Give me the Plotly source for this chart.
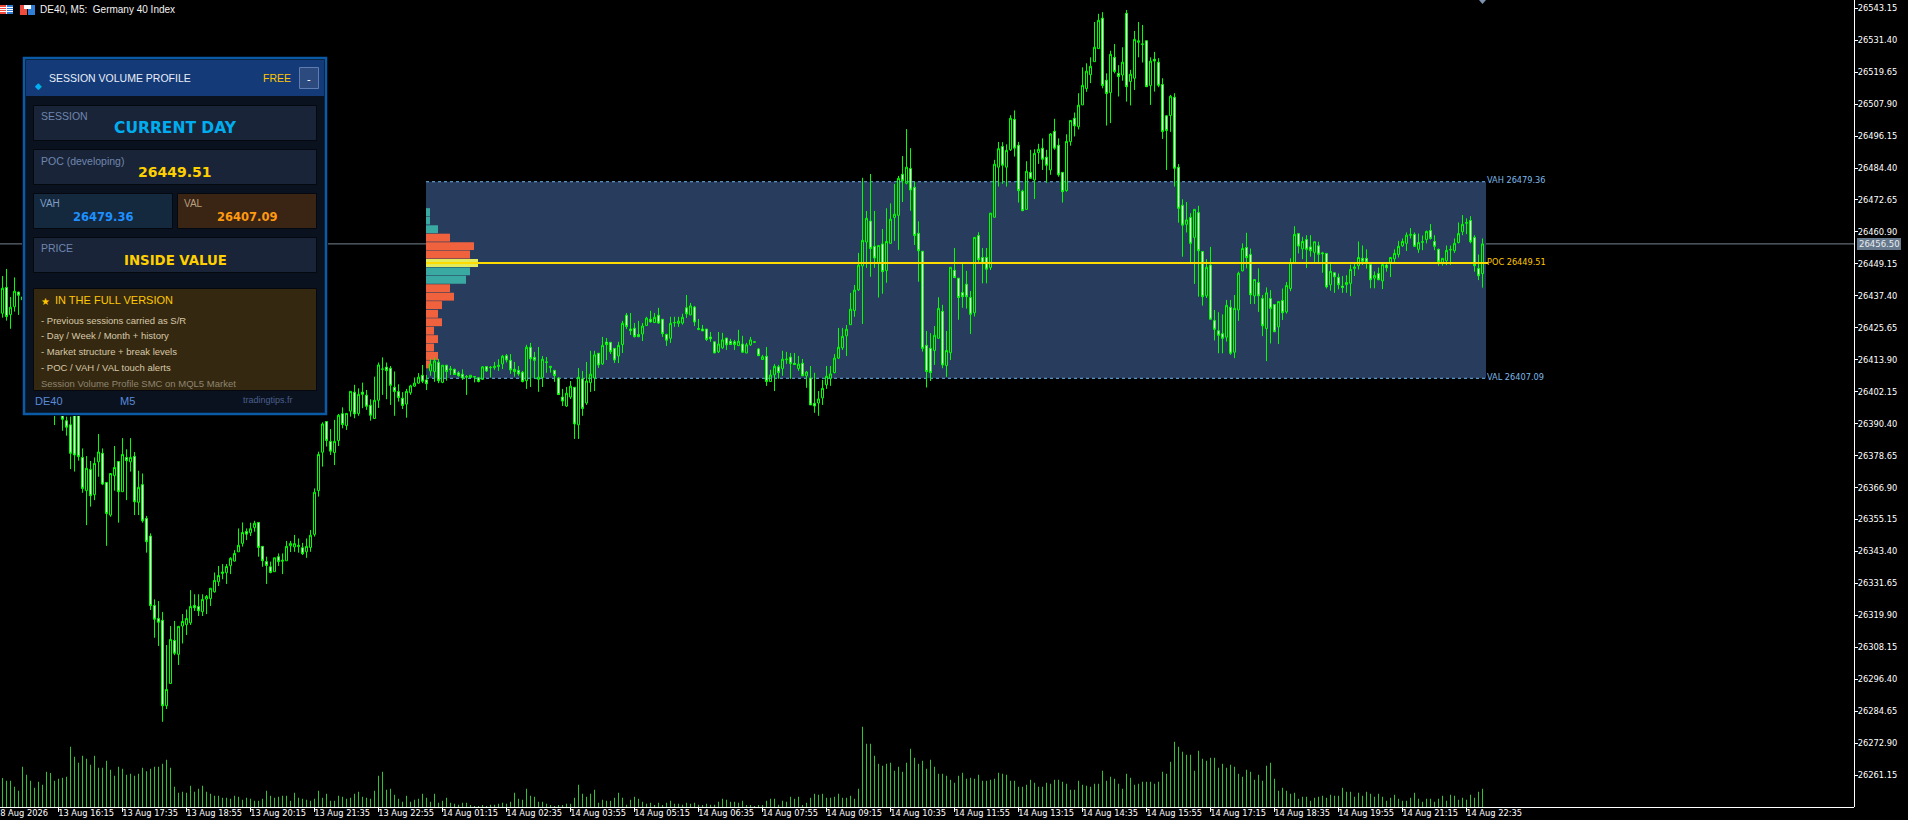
import plotly.graph_objects as go

WIDTH, HEIGHT = 1908, 820

_ = None
opens = [
26431.0,26440.5,26430.5,26433.4,26438.8,26437.0,_,_,_,_,
_,_,_,26402.0,_,26394.2,26391.5,26390.0,26398.0,26400.0,
26378.0,26365.8,26373.6,26364.3,26376.4,26379.5,26368.8,26356.8,26371.3,26376.5,
26365.4,26378.0,26376.4,26378.4,26361.5,26368.0,26355.6,26349.1,26323.6,26318.8,
26318.1,26286.7,26294.9,26310.7,26305.6,26316.0,26316.5,26317.2,26323.6,26323.2,
26321.3,26325.9,26326.1,26328.6,26332.3,26335.3,26335.6,26338.2,26339.9,26343.3,
26346.4,26350.8,26350.3,26352.2,26354.1,26345.3,26339.7,26337.8,26336.0,26341.5,
26339.8,26340.0,26345.5,26345.1,26345.2,26344.8,26343.3,26344.9,26349.7,26365.8,
26379.9,26391.2,26383.9,26379.8,26384.2,26394.1,26389.7,26395.0,26402.0,26394.1,
26402.0,26400.9,26397.2,26392.3,26399.0,26410.4,26411.2,26410.8,26403.8,26402.2,
26399.8,26397.6,26401.8,26404.2,26405.3,26408.2,26406.5,26409.8,26409.6,26413.0,
26405.6,26411.9,26410.2,26410.4,26409.1,26408.6,26407.7,26407.4,26407.6,26407.3,
26406.7,26411.4,26411.0,26411.0,26411.4,26412.4,26415.4,26413.7,26410.4,26410.0,
26409.3,26406.2,26418.5,26414.8,26406.7,26407.4,26412.9,26411.0,26410.0,26407.2,
26400.2,26396.9,26400.2,26403.8,26390.0,26406.9,26398.0,26405.5,26407.2,26416.3,
26412.4,26420.4,26420.3,26418.1,26415.3,26419.5,26430.3,26425.2,26425.5,26423.2,
26423.4,26426.5,26428.8,26427.6,26430.3,26428.8,26423.2,26421.8,26427.5,26427.3,
26427.4,26433.0,26430.4,26433.3,26425.4,26425.2,26425.2,26422.3,26420.5,26416.8,
26418.3,26421.9,26420.7,26420.5,26419.1,26419.7,26416.4,26419.4,26420.3,26417.9,
26414.0,26415.2,26405.9,26408.4,26411.3,26410.7,26413.9,26414.9,26412.6,26410.7,
26412.6,26408.0,26407.2,26397.9,26398.0,26399.9,26404.7,26407.0,26409.2,26414.5,
26418.3,26422.7,26426.8,26432.0,26439.6,26448.4,26457.2,26464.9,26455.6,26449.4,
26456.5,26446.7,26456.7,26466.2,26467.0,26482.1,26478.8,26484.2,26477.3,26460.4,
26453.8,26419.2,26418.1,26417.3,26421.8,26431.7,26411.8,26416.5,26446.8,26443.9,
26438.6,26441.7,26436.8,26431.2,26459.6,26451.5,26451.5,26447.8,26466.3,26484.7,
26492.3,26484.7,26491.1,26502.3,26492.8,26475.9,26469.2,26482.8,26480.0,26490.1,
26491.7,26488.4,26483.7,26497.9,26492.8,26482.8,26476.1,26494.1,26502.7,26499.6,
26507.6,26513.6,26518.7,26523.5,26528.3,26539.5,26516.7,26512.1,26525.1,26519.2,
26518.6,26541.3,26516.2,26517.4,26530.6,26529.8,26531.2,26514.7,26524.4,26523.3,
26515.1,26503.6,26503.7,26510.4,26484.7,26470.7,26463.7,26466.2,26458.9,26468.0,
26453.7,26437.4,26448.7,26428.3,26424.6,26423.5,26422.2,26433.2,26416.7,26432.2,
26446.6,26455.2,26452.6,26437.4,26442.3,26436.4,26425.4,26436.4,26434.2,26426.0,
26435.7,26431.5,26440.1,26449.3,26460.3,26454.7,26458.1,26455.4,26453.4,26455.8,
26453.2,26453.0,26441.5,26445.9,26444.2,26441.0,26441.5,26442.0,26447.5,26448.5,
26451.2,26451.2,26448.9,26443.9,26445.6,26442.9,26448.7,26449.8,26451.0,26452.6,
26455.8,26456.7,26459.7,26460.0,26454.5,26457.1,26458.1,26461.4,26457.4,26454.5,
26449.7,26450.3,26454.3,26454.0,26457.0,26461.0,26464.1,26465.1,26458.9,26447.5,26445.6]

closes = [
26440.2,26429.8,26433.2,26439.1,26437.6,26436.0,_,_,_,_,
_,_,_,26398.0,_,26392.0,26389.1,26379.5,26378.9,26378.3,
26366.6,26374.0,26363.9,26375.8,26380.0,26368.2,26357.4,26372.1,26374.3,26365.4,
26379.1,26376.8,26378.0,26361.7,26367.0,26354.7,26347.0,26323.5,26318.5,26317.4,
26286.7,26292.7,26311.1,26306.0,26315.9,26317.7,26318.8,26323.2,26322.7,26321.6,
26325.8,26326.9,26329.9,26332.8,26334.6,26335.9,26337.9,26340.9,26342.7,26345.7,
26350.4,26349.8,26351.8,26353.8,26344.9,26340.0,26338.3,26335.7,26341.1,26339.7,
26340.2,26345.3,26346.4,26346.3,26345.7,26342.6,26345.3,26349.4,26365.2,26379.1,
26390.3,26384.2,26380.3,26383.9,26393.5,26390.1,26394.2,26402.3,26394.0,26401.2,
26401.2,26396.8,26393.5,26399.0,26412.0,26410.5,26409.9,26404.5,26402.2,26400.0,
26397.1,26402.3,26404.3,26405.3,26407.5,26406.0,26405.1,26412.3,26413.5,26406.2,
26411.9,26409.6,26410.5,26408.5,26408.0,26407.2,26407.6,26408.2,26407.7,26405.9,
26411.3,26409.8,26411.1,26411.5,26411.9,26415.2,26413.8,26410.2,26409.6,26408.7,
26405.9,26418.5,26414.3,26413.7,26407.5,26414.1,26413.1,26411.5,26408.1,26401.1,
26398.7,26401.6,26404.2,26390.3,26407.5,26396.0,26406.1,26408.6,26415.7,26412.0,
26419.2,26419.5,26416.9,26413.8,26419.2,26427.3,26426.1,26424.6,26422.4,26422.4,
26426.3,26429.2,26427.8,26429.5,26427.4,26423.5,26421.1,26427.3,26427.6,26428.1,
26429.5,26430.8,26433.7,26427.8,26425.1,26424.5,26421.4,26421.6,26416.4,26419.7,
26421.2,26419.4,26419.5,26419.5,26420.7,26416.7,26419.4,26421.2,26420.5,26415.4,
26415.0,26405.9,26408.3,26411.5,26409.2,26414.1,26414.1,26412.5,26412.2,26412.3,
26408.0,26409.4,26397.3,26396.9,26399.5,26403.4,26407.8,26408.7,26414.5,26418.5,
26422.5,26425.1,26432.5,26439.5,26448.7,26457.8,26465.9,26454.8,26451.3,26455.9,
26446.3,26457.4,26465.6,26467.4,26480.6,26479.7,26484.7,26476.3,26459.6,26454.0,
26418.1,26409.6,26409.2,26422.9,26432.8,26412.0,26417.3,26447.9,26444.1,26436.8,
26437.1,26437.1,26430.6,26458.9,26450.7,26449.4,26447.2,26467.8,26485.8,26491.5,
26485.4,26490.9,26502.7,26491.7,26476.1,26468.7,26483.2,26480.6,26489.8,26491.3,
26487.6,26485.4,26496.9,26491.7,26481.9,26475.7,26494.2,26501.9,26499.9,26507.5,
26514.8,26520.0,26521.8,26528.8,26538.7,26514.7,26511.8,26526.2,26519.9,26518.0,
26523.3,26514.3,26518.9,26531.7,26531.2,26530.0,26514.3,26523.7,26523.7,26514.8,
26497.8,26498.2,26510.8,26484.3,26469.6,26463.4,26465.3,26456.7,26469.2,26454.0,
26437.1,26447.9,26428.8,26425.1,26422.9,26421.8,26433.9,26416.3,26432.8,26445.7,
26454.8,26451.5,26437.8,26443.4,26437.4,26426.4,26438.5,26432.8,26424.2,26435.3,
26431.2,26441.2,26449.7,26460.0,26455.7,26457.4,26454.5,26454.0,26457.3,26452.7,
26452.9,26440.7,26446.4,26444.4,26441.5,26440.5,26442.3,26447.1,26448.0,26451.5,
26450.1,26449.8,26443.3,26444.9,26443.3,26448.9,26447.7,26451.5,26453.0,26455.6,
26457.4,26459.7,26459.9,26455.6,26457.0,26457.3,26461.1,26458.5,26455.6,26449.9,
26451.2,26454.1,26454.4,26456.7,26460.3,26463.7,26464.3,26457.3,26448.5,26444.8,26456.5]

highs = [
26444.7,26447.3,26437.0,26444.2,26438.9,26447.6,_,_,_,_,
_,_,_,26410.0,_,26398.0,26393.0,26393.0,26402.0,26405.0,
26381.3,26378.5,26376.7,26378.0,26386.6,26381.3,26368.8,26372.1,26382.2,26376.5,
26385.1,26381.0,26385.1,26380.0,26373.1,26372.1,26356.5,26350.1,26325.8,26325.2,
26321.2,26309.0,26316.0,26317.9,26315.9,26320.4,26322.1,26329.2,26327.7,26327.7,
26327.7,26327.4,26329.9,26335.7,26338.1,26338.8,26338.8,26341.3,26343.9,26351.9,
26354.1,26351.9,26354.0,26354.7,26354.1,26345.4,26341.5,26339.7,26341.1,26342.7,
26342.7,26347.3,26347.3,26349.5,26348.2,26346.6,26348.2,26351.3,26366.6,26380.1,
26390.9,26391.2,26388.4,26391.8,26394.0,26396.4,26394.2,26402.3,26404.7,26403.4,
26405.5,26402.8,26399.4,26407.7,26412.9,26414.8,26412.9,26411.6,26409.6,26404.9,
26402.0,26403.2,26404.7,26407.4,26409.0,26412.0,26408.3,26414.2,26414.7,26414.2,
26411.9,26411.9,26411.6,26410.6,26409.7,26410.4,26408.3,26408.2,26407.7,26407.5,
26411.6,26411.6,26411.6,26413.1,26414.1,26415.7,26416.0,26416.0,26413.1,26411.6,
26409.8,26419.4,26420.1,26416.8,26418.6,26415.3,26414.9,26411.6,26410.2,26407.5,
26403.2,26403.9,26406.1,26403.8,26410.9,26409.8,26413.1,26417.2,26417.2,26416.3,
26422.3,26421.9,26420.3,26418.1,26420.5,26428.2,26431.1,26431.1,26427.4,26428.2,
26427.4,26429.7,26431.9,26431.1,26433.0,26428.8,26423.5,26429.7,26429.7,26429.7,
26430.8,26437.7,26434.8,26433.7,26428.9,26426.7,26425.2,26424.1,26420.5,26424.1,
26423.8,26421.9,26421.6,26421.2,26424.9,26422.7,26420.1,26422.3,26420.7,26418.2,
26415.7,26418.6,26410.2,26412.3,26412.0,26417.2,26416.8,26416.4,26416.4,26415.3,
26414.2,26409.8,26411.6,26409.1,26402.4,26406.5,26411.6,26411.6,26416.0,26425.6,
26425.6,26426.7,26438.5,26441.4,26453.2,26480.8,26468.6,26482.2,26468.6,26455.9,
26462.0,26469.6,26471.4,26478.6,26481.5,26488.8,26498.7,26491.7,26479.4,26464.8,
26453.8,26424.5,26423.7,26426.3,26436.9,26434.1,26424.5,26447.9,26455.0,26443.9,
26449.6,26446.6,26439.2,26458.9,26460.8,26455.0,26455.0,26467.8,26487.4,26494.0,
26493.9,26493.1,26503.8,26505.6,26494.0,26476.4,26486.9,26491.1,26491.3,26493.3,
26495.3,26491.1,26497.2,26502.5,26495.3,26482.8,26496.8,26501.9,26504.8,26511.9,
26521.4,26522.9,26525.1,26538.1,26541.1,26541.7,26519.2,26527.5,26530.0,26522.2,
26528.8,26542.5,26520.5,26534.8,26538.1,26537.0,26531.2,26525.1,26527.1,26524.8,
26517.4,26503.9,26511.3,26511.9,26485.9,26472.9,26471.9,26467.8,26469.2,26470.5,
26453.7,26450.9,26455.4,26432.2,26431.4,26430.6,26435.9,26435.9,26437.7,26446.3,
26456.7,26460.6,26454.8,26443.4,26447.5,26437.7,26440.5,26439.5,26434.2,26435.3,
26440.1,26442.5,26451.2,26463.0,26460.3,26459.1,26459.7,26459.7,26457.3,26457.3,
26453.6,26453.0,26449.9,26445.9,26445.6,26444.7,26445.0,26448.9,26449.6,26457.4,
26455.9,26454.5,26448.9,26446.4,26447.8,26449.8,26449.8,26451.5,26454.5,26457.6,
26458.5,26460.7,26462.3,26460.7,26460.3,26459.6,26461.4,26463.8,26459.7,26454.8,
26451.2,26455.9,26455.9,26458.5,26464.4,26467.1,26465.9,26466.7,26459.7,26452.6,26458.5]

lows = [
26429.4,26428.3,26425.3,26431.6,26430.4,26427.5,_,_,_,_,
_,_,_,26389.9,_,26387.8,26386.0,26373.7,26372.8,26376.8,
26365.0,26353.1,26359.9,26362.3,26370.9,26367.8,26345.5,26356.2,26365.8,26354.0,
26365.4,26362.3,26372.8,26356.8,26356.8,26354.0,26343.0,26321.9,26311.7,26308.7,
26280.8,26285.5,26294.9,26305.3,26301.7,26309.6,26312.7,26316.4,26321.6,26319.7,
26319.7,26320.4,26323.4,26328.3,26330.7,26333.2,26331.5,26335.1,26339.7,26343.3,
26345.2,26347.6,26349.1,26350.7,26341.5,26337.8,26331.5,26335.4,26336.0,26338.1,
26335.1,26340.0,26343.2,26343.3,26343.0,26342.1,26341.1,26343.3,26348.9,26363.6,
26374.6,26382.0,26378.9,26375.2,26382.2,26388.7,26388.1,26393.0,26392.4,26393.3,
26396.1,26395.5,26391.5,26392.3,26396.2,26401.0,26399.4,26397.3,26393.3,26398.5,
26395.8,26392.6,26401.0,26404.0,26405.1,26405.3,26402.8,26408.0,26405.8,26405.3,
26405.3,26406.2,26408.3,26408.3,26407.7,26406.5,26401.0,26407.4,26405.6,26405.6,
26406.5,26409.4,26407.4,26410.2,26409.8,26410.5,26412.9,26408.7,26407.7,26408.0,
26405.6,26403.2,26403.9,26407.1,26402.1,26403.9,26409.1,26409.2,26405.8,26401.1,
26396.9,26396.6,26399.5,26384.8,26384.8,26393.3,26397.3,26402.1,26402.4,26410.9,
26412.0,26413.8,26416.0,26412.7,26412.7,26416.4,26425.2,26423.0,26422.1,26422.2,
26420.8,26426.3,26427.6,26427.4,26427.1,26422.3,26419.0,26420.1,26426.0,26426.0,
26426.8,26429.3,26430.4,26426.3,26424.8,26424.5,26420.8,26420.5,26416.4,26416.4,
26417.9,26417.5,26419.4,26417.5,26419.0,26416.4,26416.4,26419.0,26420.1,26415.3,
26413.8,26404.3,26405.8,26402.4,26406.9,26408.0,26412.4,26406.9,26412.1,26409.8,
26408.0,26403.6,26397.3,26394.4,26393.3,26397.3,26403.2,26404.3,26408.9,26414.2,
26417.5,26415.3,26426.8,26429.7,26439.2,26427.1,26447.7,26444.4,26447.7,26436.8,
26438.2,26442.2,26456.7,26457.6,26454.3,26471.9,26478.4,26468.7,26456.1,26442.6,
26416.9,26403.7,26406.1,26412.0,26421.8,26410.8,26407.6,26413.8,26444.1,26428.6,
26433.0,26432.7,26423.4,26429.8,26449.4,26442.0,26442.0,26446.9,26466.3,26477.6,
26478.6,26477.6,26490.7,26488.6,26471.7,26468.7,26469.2,26480.6,26473.0,26485.9,
26483.7,26479.0,26481.9,26491.1,26481.2,26471.7,26475.7,26492.6,26496.0,26498.6,
26507.6,26512.4,26515.6,26523.5,26528.3,26513.7,26500.0,26500.9,26519.2,26510.7,
26516.5,26508.8,26507.4,26513.1,26525.1,26523.2,26514.3,26507.6,26512.5,26514.1,
26495.1,26483.7,26497.7,26477.6,26464.3,26451.8,26460.7,26449.4,26441.8,26437.1,
26433.8,26436.6,26428.8,26421.0,26416.3,26416.3,26420.6,26415.7,26414.5,26428.2,
26446.4,26447.5,26434.4,26434.4,26431.5,26422.6,26413.4,26419.9,26424.2,26419.7,
26428.5,26430.9,26439.1,26449.3,26453.0,26450.9,26447.6,26451.8,26449.9,26449.3,
26445.9,26440.1,26439.3,26438.5,26439.8,26438.5,26438.5,26437.3,26444.7,26447.1,
26448.7,26447.4,26440.2,26440.2,26443.2,26439.9,26446.3,26444.3,26449.3,26451.5,
26455.4,26453.9,26458.5,26455.4,26453.2,26454.2,26456.7,26458.1,26454.2,26448.5,
26448.5,26448.7,26448.8,26453.2,26456.7,26459.7,26460.1,26456.7,26446.3,26443.2,26440.4]

volumes = [
87,79,79,61,49,121,97,79,58,76,67,106,102,79,85,88,91,181,151,133,
154,145,127,154,118,118,139,112,94,121,115,97,100,94,100,118,107,115,121,121,
130,142,118,61,43,46,43,64,46,55,64,46,40,34,34,28,28,25,34,31,
22,28,25,19,19,25,49,34,28,31,34,34,19,43,28,25,22,19,25,49,
28,40,19,19,34,31,25,28,40,46,31,28,25,49,94,106,52,55,37,25,
16,34,16,22,25,40,28,16,40,13,19,28,13,10,7,13,13,4,1,1,
4,1,7,7,10,13,10,16,43,25,22,55,34,31,16,16,10,4,1,4,
4,10,10,28,67,40,31,40,52,13,22,19,19,28,43,28,7,
22,31,25,16,10,13,4,13,4,13,19,10,10,7,13,10,13,7,4,10,7,7,16,25,22,16,16,13,19,4,
4,1,4,4,19,25,25,7,19,16,31,25,31,4,13,28,40,37,40,28,28,31,40,28,28,34,25,55,241,190,
190,154,130,124,130,133,109,121,106,133,175,148,130,139,115,142,121,100,100,94,82,73,94,103,85,88,85,97,79,79,
82,85,103,100,97,79,79,61,61,67,82,73,61,61,73,70,82,82,76,70,52,52,79,
67,64,61,70,70,109,79,91,85,70,55,100,88,67,70,76,76,76,70,76,106,100,136,196,181,166,157,157,109,169,
145,139,148,148,118,130,118,127,121,100,91,112,106,82,97,79,124,133,85,49,58,49,40,43,25,31,31,19,28,31,
34,28,37,34,34,58,46,46,31,43,34,46,40,31,40,31,19,28,37,25,19,19,28,43,25,16,25,25,16,25,
34,19,37,34,22,28,22,37,28,46,55]

assert len(opens) == len(closes) == len(highs) == len(lows) == len(volumes) == 371, (len(opens), len(closes), len(highs), len(lows), len(volumes))

profile_prices = [26468.2,26465.1,26461.9,26458.8,26455.7,26452.6,26449.5,26446.4,26443.3,26440.2,
                  26437.1,26434.0,26430.8,26427.7,26424.6,26421.5,26418.4,26415.3,26412.2]
profile_lengths = [1,1,3,6,12,11,13,11,10,6,7,4,3,4,2,3,2,3,1]
profile_colors = ["#3aa9a2","#3aa9a2","#3aa9a2","#f0623d","#f0623d","#f0623d","#e3ea5c","#3aa9a2","#3aa9a2",
                  "#f0623d","#f0623d","#f0623d","#f0623d","#f0623d","#f0623d","#f0623d","#f0623d","#f0623d","#f0623d"]

price_ticks = [26543.15,26531.40,26519.65,26507.90,26496.15,26484.40,26472.65,26460.90,26449.15,26437.40,
               26425.65,26413.90,26402.15,26390.40,26378.65,26366.90,26355.15,26343.40,26331.65,26319.90,
               26308.15,26296.40,26284.65,26272.90,26261.15]
time_labels = ["8 Aug 2026","13 Aug 16:15","13 Aug 17:35","13 Aug 18:55","13 Aug 20:15","13 Aug 21:35",
               "13 Aug 22:55","14 Aug 01:15","14 Aug 02:35","14 Aug 03:55","14 Aug 05:15","14 Aug 06:35",
               "14 Aug 07:55","14 Aug 09:15","14 Aug 10:35","14 Aug 11:55","14 Aug 13:15","14 Aug 14:35",
               "14 Aug 15:55","14 Aug 17:15","14 Aug 18:35","14 Aug 19:55","14 Aug 21:15","14 Aug 22:35"]
time_tick_bars = [-2,14,30,46,62,78,94,110,126,142,158,174,190,206,222,238,254,270,286,302,318,334,350,366]
time_label_bars = [5.4,20.9,36.9,52.9,68.9,84.9,100.9,116.9,132.9,148.9,164.9,180.9,196.9,212.9,228.9,244.9,
                   260.9,276.9,292.9,308.9,324.9,340.9,356.9,372.9]

VAH, VAL, POC, LAST = 26479.36, 26407.09, 26449.51, 26456.50
SESSION_START, SESSION_END = 105.875, 370.875
PRICE_TOP, PRICE_BOTTOM = 26546.17, 26249.48
BAR_LEFT, BAR_RIGHT = -0.625, 462.875

GREEN = "#00ff00"
known = [i for i, o in enumerate(opens) if o is not None]

fig = go.Figure()
fig.add_trace(go.Bar(y=profile_prices, x=profile_lengths, base=SESSION_START, orientation="h",
                     width=2.9, marker=dict(color=profile_colors, line=dict(width=0)),
                     showlegend=False, hoverinfo="skip"))
fig.add_trace(go.Candlestick(
    x=known, open=[opens[i] for i in known], high=[highs[i] for i in known],
    low=[lows[i] for i in known], close=[closes[i] for i in known],
    increasing=dict(line=dict(color=GREEN, width=1), fillcolor="rgba(0,0,0,0)"),
    decreasing=dict(line=dict(color=GREEN, width=1), fillcolor="#ffffff"),
    whiskerwidth=0, showlegend=False, hoverinfo="skip"))
fig.add_trace(go.Bar(x=list(range(len(volumes))), y=volumes, width=0.25, xaxis="x2", yaxis="y2",
                     marker=dict(color="#2fc42f", line=dict(width=0)), showlegend=False, hoverinfo="skip"))


def X(px):
    return px / WIDTH


def Y(py):
    return 1 - py / HEIGHT


shapes = []


def rect(x0, y0, x1, y1, fill, line=None, lw=1):
    shapes.append(dict(type="rect", xref="paper", yref="paper", x0=X(x0), x1=X(x1), y0=Y(y0), y1=Y(y1),
                       fillcolor=fill, line=dict(color=line or fill, width=lw if line else 0), layer="above"))


# value area, last price and developing POC
shapes.append(dict(type="rect", xref="x", yref="y", x0=SESSION_START, x1=SESSION_END, y0=VAL, y1=VAH,
                   fillcolor="#283c5e", line=dict(width=0), layer="below"))
for level in (VAH, VAL):
    shapes.append(dict(type="line", xref="x", yref="y", x0=SESSION_START, x1=SESSION_END, y0=level, y1=level,
                       line=dict(color="#6db3e8", width=1, dash="3px,3px"), layer="below"))
shapes.append(dict(type="line", xref="paper", yref="y", x0=0, x1=X(1854), y0=LAST, y1=LAST,
                   line=dict(color="#77838f", width=1), layer="below"))
shapes.append(dict(type="line", xref="x", yref="y", x0=SESSION_START, x1=SESSION_END + 0.5, y0=POC, y1=POC,
                   line=dict(color="#ffdc00", width=2), layer="above"))

# dashboard panel
rect(22, 56, 328, 416, "#000000")
rect(24, 58, 326, 414, "#0a1220", "#0a5aa6", 2.5)
rect(26, 60, 324, 96, "#143a78")
rect(299.5, 67.5, 318.5, 88.5, "#2d4a7f", "#5f7db0", 1)
rect(33.5, 105.5, 316.5, 140.5, "#1a2438", "#05080f", 1)
rect(33.5, 149.5, 316.5, 184.5, "#1a2438", "#05080f", 1)
rect(33.5, 193.5, 172.5, 228.5, "#14283e", "#05080f", 1)
rect(177.5, 193.5, 316.5, 228.5, "#3a2414", "#05080f", 1)
rect(33.5, 237.5, 316.5, 272.5, "#1a2438", "#05080f", 1)
rect(33.5, 288.5, 316.5, 390.5, "#352811", "#05080f", 1)

# toolbar icons
rect(0, 5, 13, 14, "#dfeaf6", None)
rect(0, 5, 6, 14, "#ef4b3f", None)
rect(7, 5, 13, 14, "#2f7fd8", None)
for yy in (7, 9, 11):
    rect(0, yy, 13, yy + 1, "#ffffff", None)
rect(20, 5, 27, 15, "#ef4b3f", None)
rect(28, 5, 35, 15, "#2f7fd8", None)
rect(24, 5, 31, 9, "#ffffff", None)
shapes.append(dict(type="path", xref="paper", yref="paper", layer="above",
                   path=f"M {X(1479)} {Y(0)} L {X(1486)} {Y(0)} L {X(1482.5)} {Y(4)} Z",
                   fillcolor="#7d93ad", line=dict(width=0)))

annotations = []


def label(px, py, text, size, color, anchor="left", family="Liberation Sans", bold=False, bg=None):
    shift = -1.5 if anchor == "left" else 0
    annotations.append(dict(xref="paper", yref="paper", x=X(px + shift), y=Y(py), text=f"<b>{text}</b>" if bold else text,
                            showarrow=False, xanchor=anchor, yanchor="middle",
                            font=dict(family=family, size=size, color=color), bgcolor=bg,
                            borderpad=0, align=anchor))


DV = "DejaVu Sans"
label(40, 9, "DE40, M5:  Germany 40 Index", 10, "#f2f2f2")
label(49.5, 78, "SESSION VOLUME PROFILE", 10.5, "#e8eef8")
label(263, 78, "FREE", 10.5, "#ffc800")
label(309, 79, "-", 11, "#ffffff", "center")
label(38, 86, "◆", 9, "#00b0f0", "center", DV)
label(41, 116, "SESSION", 10.5, "#6f86ae")
label(175, 128, "CURRENT DAY", 15.5, "#00aeef", "center", DV, True)
label(41, 161, "POC (developing)", 10.5, "#6f86ae")
label(175, 172, "26449.51", 14, "#ffd000", "center", DV, True)
label(40, 203, "VAH", 10, "#7f9fc4")
label(103, 217, "26479.36", 11.5, "#1e90ff", "center", DV, True)
label(184, 203, "VAL", 10, "#b9a080")
label(247, 217, "26407.09", 11.5, "#ff9a10", "center", DV, True)
label(41, 248, "PRICE", 10.5, "#6f86ae")
label(175, 260, "INSIDE VALUE", 13.3, "#ffd000", "center", DV, True)
label(45, 301, "★", 10, "#ffc800", "center", DV)
label(55, 300, "IN THE FULL VERSION", 11, "#ffc800")
label(41, 320, "- Previous sessions carried as S/R", 9.5, "#d6c9a8")
label(41, 336, "- Day / Week / Month + history", 9.5, "#d6c9a8")
label(41, 352, "- Market structure + break levels", 9.5, "#d6c9a8")
label(41, 368, "- POC / VAH / VAL touch alerts", 9.5, "#d6c9a8")
label(41, 383, "Session Volume Profile SMC on MQL5 Market", 9.5, "#8c8570")
label(35, 401, "DE40", 11, "#5a8ad8")
label(120, 401, "M5", 11, "#5a8ad8")
label(243, 400, "tradingtips.fr", 9, "#4a5f8a")
label(1487, 180, "VAH 26479.36", 8.2, "#7db8e8", family=DV)
label(1487, 262, "POC 26449.51", 8.2, "#ffc800", family=DV)
label(1487, 377, "VAL 26407.09", 8.2, "#7db8e8", family=DV)
rect(1857, 238, 1901, 250, "#66788c")
label(1879, 244, "26456.50", 8.5, "#eaeef2", "center", DV)

plot_right = 1854 / WIDTH
plot_bottom = 13 / HEIGHT
tick_font = dict(family=DV, size=8.3, color="#ffffff")

fig.update_layout(
    width=WIDTH, height=HEIGHT, margin=dict(l=0, r=0, t=0, b=0), autosize=False,
    paper_bgcolor="#000000", plot_bgcolor="rgba(0,0,0,0)", showlegend=False, hovermode=False,
    boxgap=0.5, boxgroupgap=0, shapes=shapes, annotations=annotations,
    xaxis=dict(domain=[0, plot_right], range=[BAR_LEFT, BAR_RIGHT], anchor="y", showgrid=False, zeroline=False,
               rangeslider=dict(visible=False), tickmode="array",
               tickvals=time_label_bars, ticktext=time_labels,
               ticks="", tickfont=tick_font, showline=False, tickangle=0),
    xaxis2=dict(domain=[0, plot_right], range=[BAR_LEFT, BAR_RIGHT], anchor="y2", overlaying="x", showgrid=False,
                zeroline=False, tickmode="array", tickvals=time_tick_bars, showticklabels=False,
                ticks="outside", ticklen=4, tickcolor="#ffffff", tickwidth=1,
                showline=True, linecolor="#ffffff", linewidth=1),
    yaxis=dict(domain=[plot_bottom, 1], range=[PRICE_BOTTOM, PRICE_TOP], side="right", anchor="x",
               showgrid=False, zeroline=False, tickmode="array", tickvals=price_ticks,
               ticktext=[f"{p:.2f}" for p in price_ticks], ticks="outside", ticklen=3, tickcolor="#ffffff",
               tickwidth=1, tickfont=tick_font, showline=True, linecolor="#ffffff", linewidth=1,
               ticklabelstandoff=-2),
    yaxis2=dict(domain=[plot_bottom, plot_bottom + 100 / HEIGHT], range=[0, 300], anchor="x2", visible=False),
)

fig.write_html("out.html", config=dict(displayModeBar=False),
               post_script="document.body.style.margin='0';document.body.style.background='#000';"
                           "document.documentElement.style.overflow='hidden';")
